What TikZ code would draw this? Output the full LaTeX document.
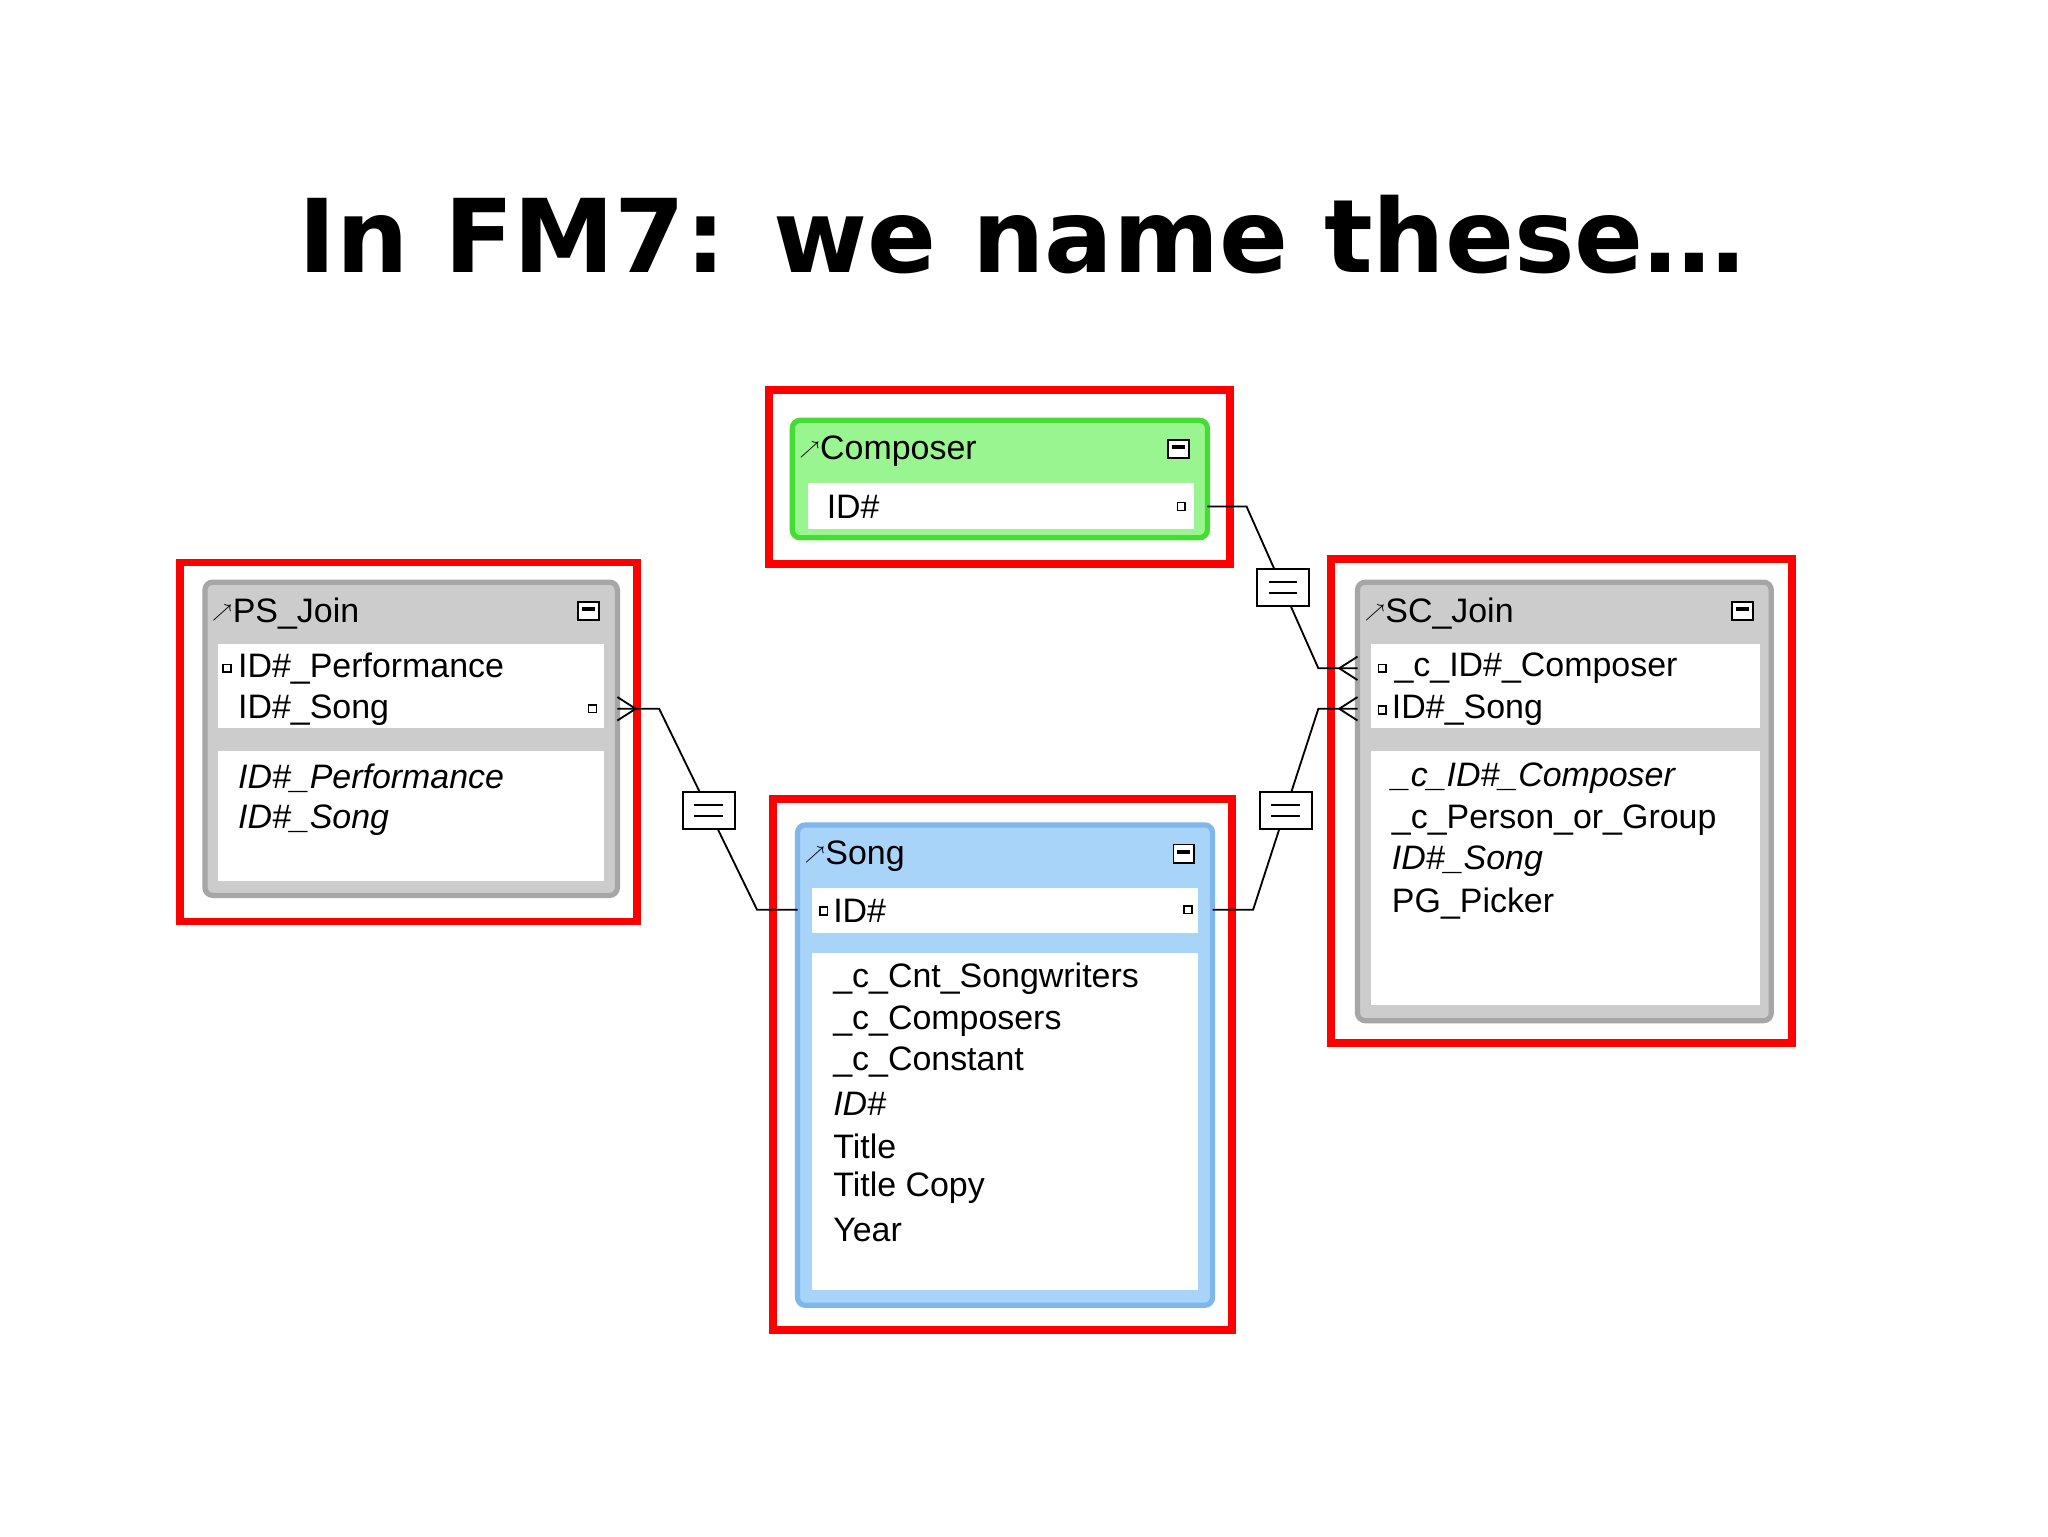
\documentclass[tikz,border=0pt]{standalone}
\usepackage{fontspec}
\setmainfont{Liberation Sans}
\newfontfamily\titlefont{DejaVu Sans}
\definecolor{songfill}{HTML}{A8D4FA}
\definecolor{songdraw}{HTML}{7FB6EC}
\definecolor{compfill}{HTML}{99F58F}
\definecolor{compdraw}{HTML}{44DD33}
\begin{document}
\begin{tikzpicture}[x=0.5pt,y=-0.5pt,
  redbox/.style={draw=red,line width=3pt},
  fld/.style={anchor=west,inner sep=0pt,font=\fontsize{13}{15}\selectfont},
  ifld/.style={fld,font=\fontsize{13}{15}\selectfont\itshape},
  sq/.style={draw,line width=0.6pt,minimum size=3pt,inner sep=0pt,fill=white},
  eqbox/.style={draw,fill=white,line width=0.8pt,minimum width=20pt,minimum height=14pt,inner sep=0pt},
  conn/.style={line width=0.7pt}]
\useasboundingbox (0,0) rectangle (1569,1177);
\fill[white] (0,0) rectangle (1569,1177);
\node[font=\titlefont\bfseries\fontsize{39}{46}\selectfont] (title) at (783,180) {In FM7: we name these…};

\newcommand\tbl[8]{%
  \draw[#7,line width=2pt,fill=#6,rounded corners=3pt] (#2,#3) rectangle (#4,#5);
  \node[fld,font=\fontsize{13}{15}\selectfont] (#1h) at (#2+5,#3+24) {{\fontsize{7}{8}\selectfont\raisebox{2pt}{$\nearrow$}}#8};
  \draw[line width=0.7pt,fill=white] (#4-30,#3+15) rectangle (#4-14,#3+29);
  \fill (#4-27,#3+19) rectangle (#4-17,#3+22);
}

% Composer
\draw[redbox] (589,299) rectangle (942,432);
\tbl{comp}{607}{322}{925}{412}{compfill}{compdraw}{Composer}
\fill[white] (619,370) rectangle (915,405);
\node[fld] (compid) at (633,388) {ID\#};
\node[sq] (compsq) at (905,388) {};
\coordinate (compR) at (925,388);

% PS_Join
\draw[redbox] (138,431) rectangle (488,706);
\tbl{ps}{157}{446}{473}{686}{gray!40}{gray!70}{PS\_Join}
\fill[white] (167,493) rectangle (463,558);
\fill[white] (167,575) rectangle (463,675);
\node[sq] at (174,512) {};
\node[fld] (ps1) at (182,512) {ID\#\_Performance};
\node[fld] (ps2) at (182,544) {ID\#\_Song};
\node[sq] at (454,543) {};
\node[ifld] (ps3) at (182,596) {ID\#\_Performance};
\node[ifld] (ps4) at (182,628) {ID\#\_Song};
\coordinate (psR) at (473,543);

% Song
\draw[redbox] (592,612) rectangle (944,1019);
\tbl{song}{611}{632}{929}{1000}{songfill}{songdraw}{Song}
\fill[white] (622,680) rectangle (918,715);
\fill[white] (622,730) rectangle (918,988);
\node[sq] at (631,698) {};
\node[fld] (songid) at (638,698) {ID\#};
\node[sq] at (910,697) {};
\node[fld] at (638,750) {\_c\_Cnt\_Songwriters};
\node[fld] at (638,782) {\_c\_Composers};
\node[fld] at (638,814) {\_c\_Constant};
\node[ifld] at (638,846) {ID\#};
\node[fld] at (638,878) {Title};
\node[fld] at (638,910) {Title Copy};
\node[fld] at (638,942) {Year};
\coordinate (songL) at (611,697);
\coordinate (songR) at (929,697);

% SC_Join
\draw[redbox] (1020,428) rectangle (1373,799);
\tbl{sc}{1040}{446}{1357}{782}{gray!40}{gray!70}{SC\_Join}
\fill[white] (1050,493) rectangle (1348,558);
\fill[white] (1050,575) rectangle (1348,770);
\node[sq] at (1059,512) {};
\node[fld] at (1068,512) {\_c\_ID\#\_Composer};
\node[sq] at (1059,544) {};
\node[fld] at (1066,544) {ID\#\_Song};
\node[ifld] at (1066,596) {\_c\_ID\#\_Composer};
\node[fld] at (1066,628) {\_c\_Person\_or\_Group};
\node[ifld] at (1066,660) {ID\#\_Song};
\node[fld] at (1066,692) {PG\_Picker};
\coordinate (sc1) at (1040,512);
\coordinate (sc2) at (1040,543);

% connectors
\draw[conn] (compR) -- (955,388) -- (1010,512) -- (sc1);
\draw[conn] (1026,512) -- (1040,503) (1026,512) -- (1040,521);
\node[eqbox] (eq1) at (983,450) {};
\draw[conn] (972,446)--(994,446) (972,454)--(994,454);

\draw[conn] (psR) -- (505,543) -- (580,697) -- (songL);
\draw[conn] (487,543) -- (473,534) (487,543) -- (473,552);
\node[eqbox] (eq2) at (543,621) {};
\draw[conn] (532,617)--(554,617) (532,625)--(554,625);

\draw[conn] (songR) -- (960,697) -- (1010,543) -- (sc2);
\draw[conn] (1026,543) -- (1040,534) (1026,543) -- (1040,552);
\node[eqbox] (eq3) at (985,621) {};
\draw[conn] (974,617)--(996,617) (974,625)--(996,625);
\end{tikzpicture}
\end{document}
